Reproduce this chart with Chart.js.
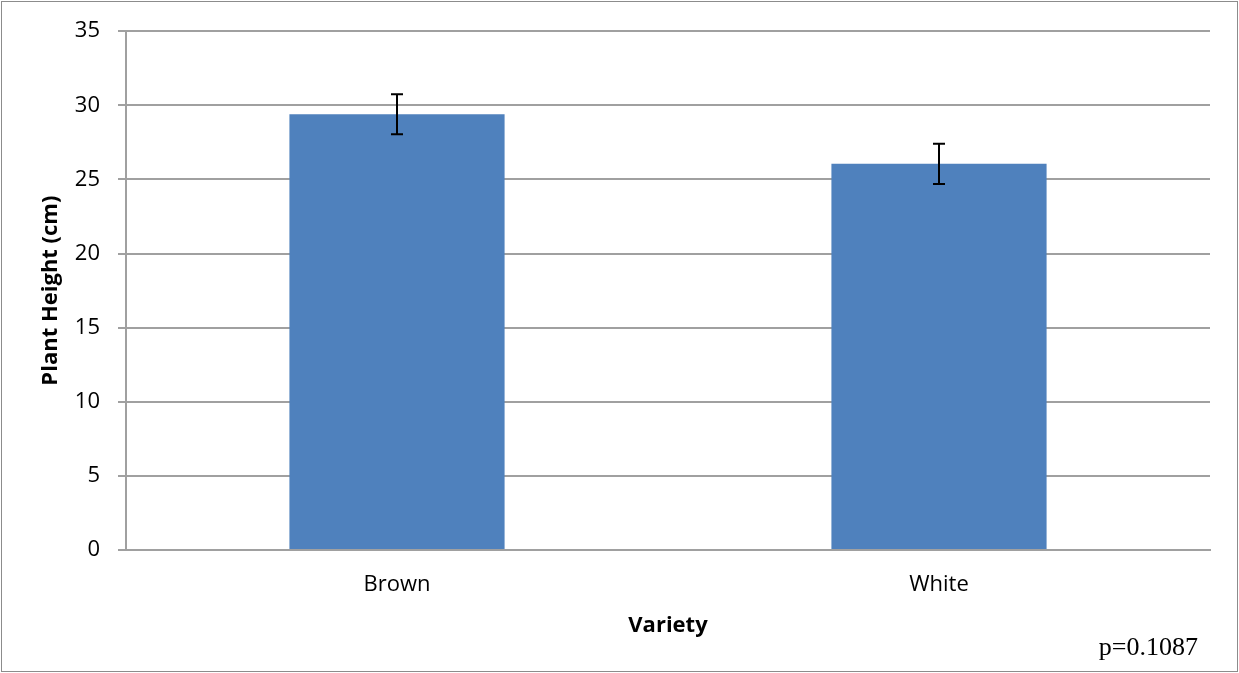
<!DOCTYPE html>
<html>
<head>
<meta charset="utf-8">
<script src="https://cdn.jsdelivr.net/npm/chart.js@4/dist/chart.umd.min.js"></script>
<style>
  body { margin: 0; background: #fff; }
</style>
</head>
<body>
<canvas id="chart-1" width="1239" height="673"></canvas>
<script>
const categories = ['Brown', 'White'];
const heights = [29.4, 26.05];
const errors = [1.35, 1.35];
const yTicks = [0, 5, 10, 15, 20, 25, 30, 35];
const pValue = 'p=0.1087';

const errorBars = {
    id: 'errorBars',
    afterDatasetsDraw(chart) {
        const ctx = chart.ctx;
        const y = chart.scales.y;
        const meta = chart.getDatasetMeta(0);
        ctx.save();
        ctx.strokeStyle = '#000';
        ctx.lineWidth = 2;
        meta.data.forEach((bar, i) => {
            const top = y.getPixelForValue(heights[i] + errors[i]);
            const bot = y.getPixelForValue(heights[i] - errors[i]);
            ctx.beginPath();
            ctx.moveTo(bar.x, top);
            ctx.lineTo(bar.x, bot);
            ctx.moveTo(bar.x - 6, top);
            ctx.lineTo(bar.x + 6, top);
            ctx.moveTo(bar.x - 6, bot);
            ctx.lineTo(bar.x + 6, bot);
            ctx.stroke();
        });
        ctx.restore();
    }
};

const frame = {
    id: 'frame',
    afterDraw(chart) {
        const ctx = chart.ctx;
        ctx.save();
        ctx.strokeStyle = '#8c8c8c';
        ctx.lineWidth = 1;
        ctx.strokeRect(1.5, 1.5, chart.width - 3, chart.height - 3);
        ctx.fillStyle = '#000';
        ctx.font = '26px "Liberation Serif"';
        ctx.textAlign = 'right';
        ctx.textBaseline = 'alphabetic';
        ctx.fillText(pValue, 1198, 655);
        ctx.restore();
    }
};

const ctx1 = document.getElementById('chart-1').getContext('2d');

new Chart(ctx1, {
    type: 'bar',
    data: {
        labels: categories,
        datasets: [{
            data: heights,
            backgroundColor: '#4F81BD',
            categoryPercentage: 1,
            barPercentage: 0.397
        }]
    },
    options: {
        responsive: false,
        animation: false,
        layout: { padding: { left: 0, top: 31, right: 29, bottom: 0 } },
        plugins: {
            legend: { display: false },
            tooltip: { enabled: false }
        },
        scales: {
            x: {
                grid: { display: false, drawTicks: false },
                border: { display: true, color: '#a0a0a0', width: 2 },
                ticks: { color: '#000', padding: 22, font: { family: 'Open Sans', size: 22 } },
                title: {
                    display: true, text: 'Variety', color: '#000',
                    font: { family: 'Open Sans', size: 22, weight: 'bold' },
                    padding: { top: 34, bottom: 34 }
                },
                afterFit(scale) { scale.height = 123; }
            },
            y: {
                min: 0,
                max: 35,
                afterBuildTicks(scale) { scale.ticks = yTicks.map(v => ({ value: v })); },
                grid: { color: '#a0a0a0', lineWidth: 2, tickLength: 8 },
                border: { display: true, color: '#a0a0a0', width: 2 },
                ticks: { color: '#000', padding: 18, font: { family: 'Open Sans', size: 22 } },
                title: {
                    display: true, text: 'Plant Height (cm)', color: '#000',
                    font: { family: 'Open Sans', size: 22, weight: 'bold' },
                    padding: { top: 38, bottom: 38 }
                },
                afterFit(scale) { scale.width = 126; }
            }
        }
    },
    plugins: [errorBars, frame]
});
</script>
</body>
</html>
